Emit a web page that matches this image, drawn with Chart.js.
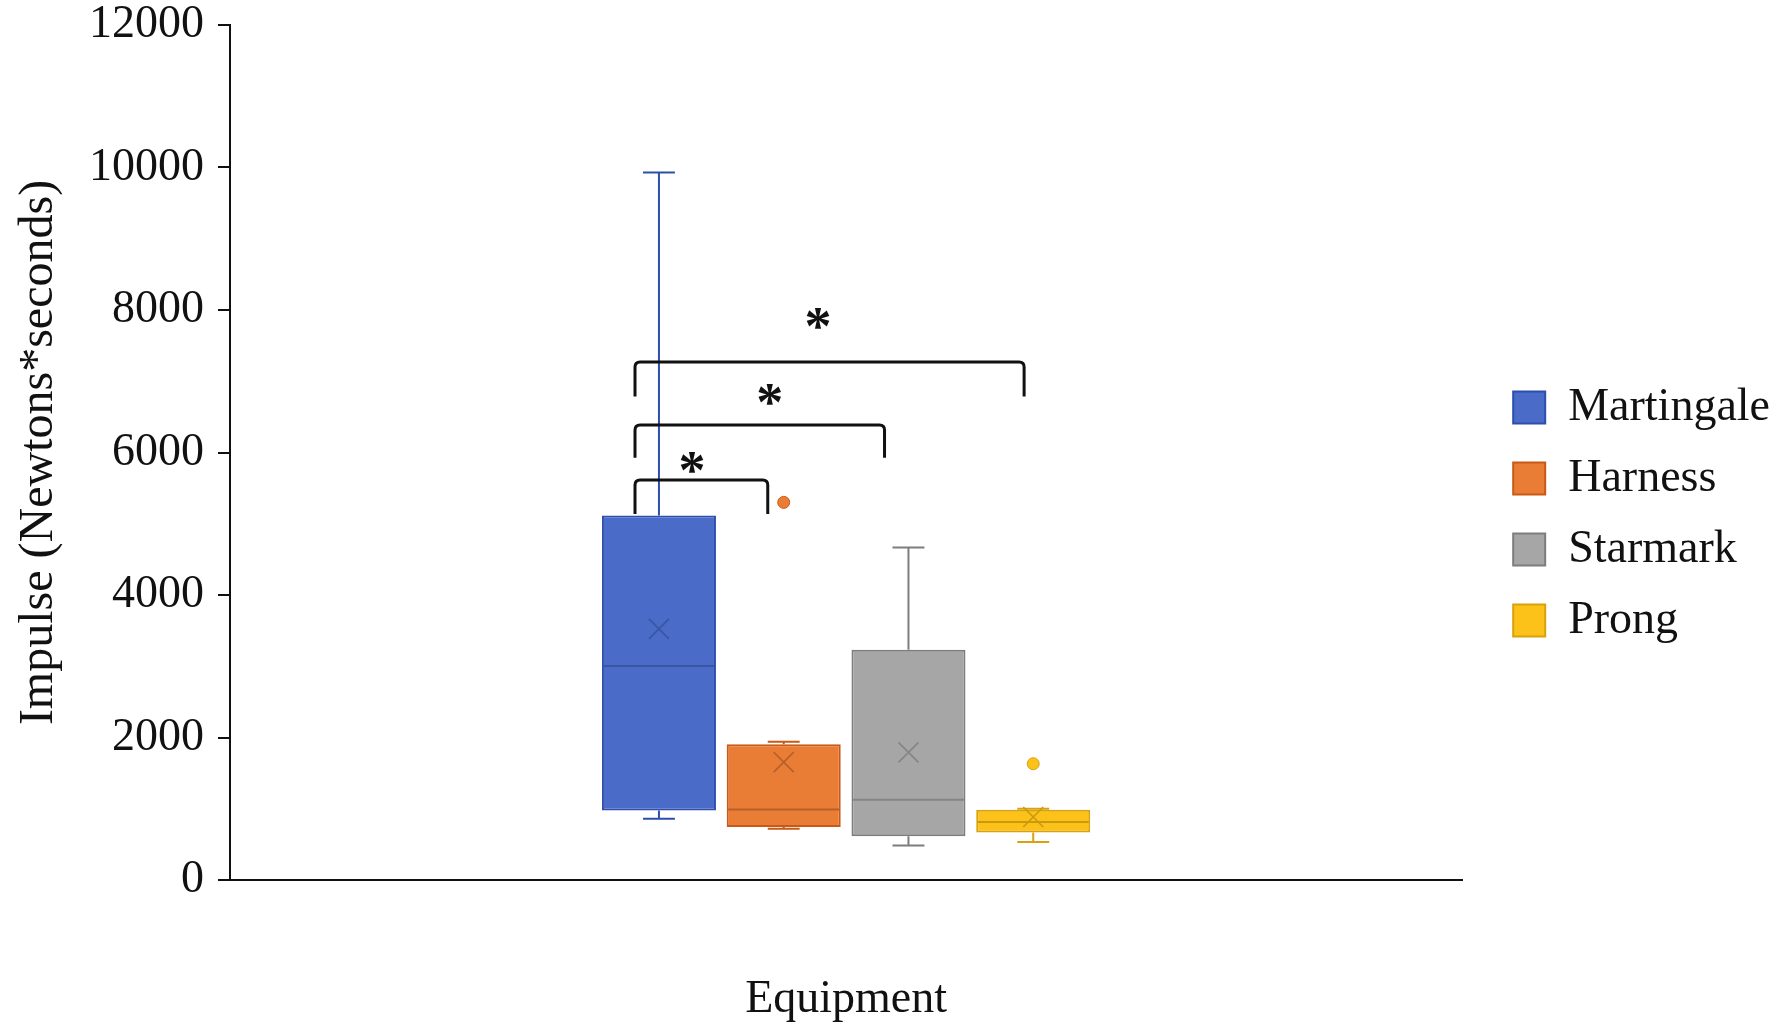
<!DOCTYPE html>
<html>
<head>
<meta charset="utf-8">
<title>Impulse by equipment</title>
<script src="https://cdn.jsdelivr.net/npm/chart.js@4"></script>
<style>
  html, body { margin: 0; padding: 0; background: #fff; }
  #wrap { width: 1780px; height: 1028px; }
</style>
</head>
<body>
<div id="wrap"><canvas id="chart" width="1780" height="1028"></canvas></div>
<script>
// ================================
// Data
// ================================

const categories = ['Equipment'];
const groups = ['Martingale', 'Harness', 'Starmark', 'Prong'];

const mins    = [860, 720, 485, 535];
const q1s     = [975, 745, 615, 665];
const medians = [3005, 990, 1128, 815];
const q3s     = [5115, 1905, 3230, 985];
const maxes   = [9930, 1940, 4665, 1000];
const means   = [3525, 1655, 1792, 885];
const outliers = [[], [5300], [], [1632]];

const yTicks = [0, 2000, 4000, 6000, 8000, 10000, 12000];

// significance brackets: pair of groups, top of bracket, end of legs, star level
const bracketPairs = [[0, 1], [0, 2], [0, 3]];
const bracketTops  = [5614, 6386, 7270];
const bracketLegs  = [5137, 5925, 6786];
const starLevels   = [5861, 6818, 7886];

// ================================
// Styles
// ================================

const fills   = ['#4a6bc8', '#ea7d35', '#a6a6a6', '#fcc21a'];
const borders = ['#2e4eae', '#c85a16', '#7d7d7d', '#d9a20a'];
const inner   = ['#3a55a2', '#b85f2a', '#858585', '#c99a10'];

const FONT = '"Liberation Serif", "Times New Roman", serif';

// bracket leg offsets from box centers, as a share of box width
const bracketLeftOff = -0.21;
const bracketRightOff = [-0.14, -0.21, -0.08];
const starShift = [0.43, 0.54, 0.47];

// ================================
// Box plot extras plugin
// ================================

const boxExtras = {
  id: 'boxExtras',
  beforeDatasetsDraw(chart) {
    const ctx = chart.ctx;
    const y = chart.scales.y;
    chart.data.datasets.forEach((ds, i) => {
      const bar = chart.getDatasetMeta(i).data[0];
      if (!bar) return;
      const cx = bar.x;
      const cap = bar.width * 0.14;
      ctx.save();
      ctx.strokeStyle = borders[i];
      ctx.lineWidth = 2;
      ctx.beginPath();
      ctx.moveTo(cx, y.getPixelForValue(maxes[i]));
      ctx.lineTo(cx, y.getPixelForValue(q3s[i]));
      ctx.moveTo(cx, y.getPixelForValue(q1s[i]));
      ctx.lineTo(cx, y.getPixelForValue(mins[i]));
      ctx.moveTo(cx - cap, y.getPixelForValue(maxes[i]));
      ctx.lineTo(cx + cap, y.getPixelForValue(maxes[i]));
      ctx.moveTo(cx - cap, y.getPixelForValue(mins[i]));
      ctx.lineTo(cx + cap, y.getPixelForValue(mins[i]));
      ctx.stroke();
      ctx.restore();
    });
  },
  afterDatasetsDraw(chart) {
    const ctx = chart.ctx;
    const y = chart.scales.y;
    const bars = chart.data.datasets.map((ds, i) => chart.getDatasetMeta(i).data[0]);

    bars.forEach((bar, i) => {
      if (!bar) return;
      const cx = bar.x;
      const half = bar.width / 2 - 1.5;
      ctx.save();
      // median
      ctx.strokeStyle = inner[i];
      ctx.lineWidth = 2;
      const my = y.getPixelForValue(medians[i]);
      ctx.beginPath();
      ctx.moveTo(cx - half, my);
      ctx.lineTo(cx + half, my);
      ctx.stroke();
      // mean cross
      const ey = y.getPixelForValue(means[i]);
      const s = 10;
      ctx.lineWidth = 1.6;
      ctx.beginPath();
      ctx.moveTo(cx - s, ey - s);
      ctx.lineTo(cx + s, ey + s);
      ctx.moveTo(cx + s, ey - s);
      ctx.lineTo(cx - s, ey + s);
      ctx.stroke();
      // outliers
      ctx.fillStyle = fills[i];
      ctx.strokeStyle = borders[i];
      ctx.lineWidth = 1;
      outliers[i].forEach(v => {
        ctx.beginPath();
        ctx.arc(cx, y.getPixelForValue(v), 6, 0, Math.PI * 2);
        ctx.fill();
        ctx.stroke();
      });
      ctx.restore();
    });

    // brackets and stars
    ctx.save();
    ctx.strokeStyle = '#111';
    ctx.lineWidth = 3;
    ctx.lineJoin = 'round';
    ctx.fillStyle = '#111';
    ctx.font = 'bold 54px ' + FONT;
    ctx.textAlign = 'center';
    ctx.textBaseline = 'alphabetic';
    bracketPairs.forEach(([a, b], k) => {
      const ba = bars[a], bb = bars[b];
      const x1 = ba.x + ba.width * bracketLeftOff;
      const x2 = bb.x + bb.width * bracketRightOff[k];
      const top = y.getPixelForValue(bracketTops[k]);
      const leg = y.getPixelForValue(bracketLegs[k]);
      const r = 5;
      ctx.beginPath();
      ctx.moveTo(x1, leg);
      ctx.lineTo(x1, top + r);
      ctx.quadraticCurveTo(x1, top, x1 + r, top);
      ctx.lineTo(x2 - r, top);
      ctx.quadraticCurveTo(x2, top, x2, top + r);
      ctx.lineTo(x2, leg);
      ctx.stroke();
      const sx = x1 + (x2 - x1) * starShift[k];
      const sy = y.getPixelForValue(starLevels[k]);
      const m = ctx.measureText('*');
      const off = (m.actualBoundingBoxAscent - m.actualBoundingBoxDescent) / 2;
      ctx.fillText('*', sx, sy + off);
    });
    ctx.restore();
  }
};

// ================================
// Chart
// ================================

const datasets = groups.map((name, i) => ({
  label: name,
  data: [[q1s[i], q3s[i]]],
  backgroundColor: fills[i],
  borderColor: borders[i],
  borderWidth: 2,
  borderSkipped: false,
  barPercentage: 0.914,
  categoryPercentage: 0.405
}));

new Chart(document.getElementById('chart'), {
  type: 'bar',
  data: { labels: categories, datasets: datasets },
  plugins: [boxExtras],
  options: {
    responsive: false,
    animation: false,
    layout: { padding: { left: 8, top: 0, right: 0, bottom: 0 } },
    plugins: {
      tooltip: { enabled: false },
      legend: {
        position: 'right',
        align: 'center',
        labels: {
          color: '#111',
          font: { family: FONT, size: 46 },
          boxWidth: 32,
          boxHeight: 32,
          padding: 25
        }
      }
    },
    scales: {
      x: {
        grid: { display: false },
        border: { display: true, color: '#111', width: 2 },
        ticks: { display: false },
        title: {
          display: true,
          text: 'Equipment',
          color: '#111',
          font: { family: FONT, size: 46 },
          padding: { top: 0, bottom: 0 }
        },
        afterFit(scale) { scale.height = 148; }
      },
      y: {
        min: 0,
        max: 12000,
        afterBuildTicks(scale) { scale.ticks = yTicks.map(v => ({ value: v })); },
        grid: {
          display: true,
          drawOnChartArea: false,
          drawTicks: true,
          tickLength: 12,
          color: '#111',
          lineWidth: 2
        },
        border: { display: true, color: '#111', width: 2 },
        ticks: {
          color: '#111',
          padding: 14,
          font: { family: FONT, size: 46, lineHeight: 1 },
          callback: v => String(v)
        },
        title: {
          display: true,
          text: 'Impulse (Newtons*seconds)',
          color: '#111',
          font: { family: FONT, size: 48 },
          padding: { top: 3, bottom: 4 }
        },
        afterFit(scale) {
          scale.width = 222;
          scale.paddingTop = 25;
          scale.paddingBottom = 0;
        }
      },
      gap: {
        type: 'linear',
        position: 'right',
        display: true,
        grid: { display: false },
        border: { display: false },
        ticks: { display: false },
        afterFit(scale) { scale.width = 26; }
      }
    }
  }
});
</script>
</body>
</html>
